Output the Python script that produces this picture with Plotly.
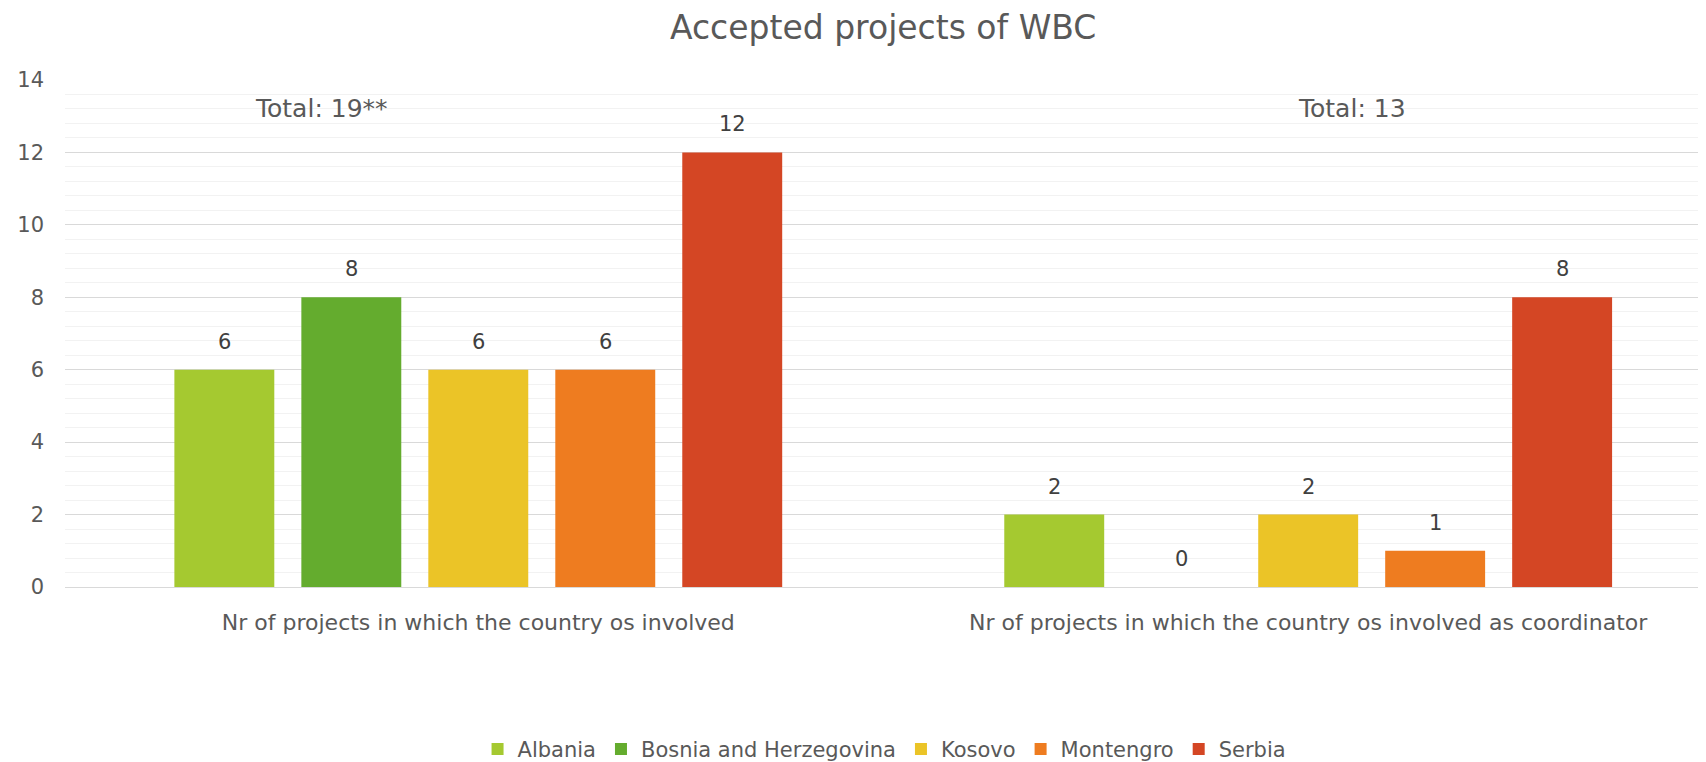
import plotly.graph_objects as go

# data
categories = [
    "Nr of projects in which the country os involved",
    "Nr of projects in which the country os involved as coordinator",
]
countries = ["Albania", "Bosnia and Herzegovina", "Kosovo", "Montengro", "Serbia"]
involved = [6, 8, 6, 6, 12]
coordinator = [2, 0, 2, 1, 8]
totals = ["Total: 19**", "Total: 13"]
colors = ["#A5C930", "#64AC2E", "#EBC427", "#EE7C20", "#D44624"]

FONT = "'DejaVu Sans', sans-serif"
GREY = "#595959"

# pixel width of one bar slot (used to put the value labels over grouped bars)
SLOT = 127

fig = go.Figure()

for i, name in enumerate(countries):
    vals = [involved[i], coordinator[i]]
    fig.add_trace(go.Bar(
        x=categories,
        y=vals,
        name=name,
        marker=dict(color=colors[i], line=dict(width=0)),
        textposition="none",
    ))
    # value labels, offset to sit over this series' bar
    for cat, v in zip(categories, vals):
        fig.add_annotation(
            x=cat, y=v, xref="x", yref="y",
            xshift=(i - 2) * SLOT, yshift=28,
            text=str(v), showarrow=False, yanchor="middle",
            font=dict(size=21, color="#404040", family=FONT),
        )

# "Total" labels above each group
for j, label in enumerate(totals):
    fig.add_annotation(
        x=categories[j], y=13.2, xref="x", yref="y",
        xshift=-157 if j == 0 else 44,
        text=label, showarrow=False, yanchor="middle",
        font=dict(size=25, color=GREY, family=FONT),
    )

fig.update_layout(
    width=1706, height=762,
    margin=dict(l=57, r=0, t=72, b=180),
    paper_bgcolor="white", plot_bgcolor="white",
    font=dict(family=FONT, color=GREY, size=21),
    title=dict(
        text="Accepted projects of WBC",
        x=0.513, xanchor="center", y=0.975, yanchor="middle",
        font=dict(size=33, color=GREY, family=FONT),
    ),
    barmode="group",
    bargap=0.235,
    bargroupgap=0.213,
    showlegend=True,
    legend=dict(
        orientation="h", x=0.497, xanchor="center", y=-0.32, yanchor="middle",
        font=dict(size=21, color=GREY, family=FONT),
        itemwidth=30, tracegroupgap=0,
    ),
    xaxis=dict(
        type="category",
        range=[-0.498, 1.489],
        showgrid=False,
        showline=True, linecolor="#D9D9D9", linewidth=1,
        ticks="outside", ticklen=16, tickcolor="rgba(0,0,0,0)",
        tickfont=dict(size=22, color=GREY, family=FONT),
    ),
    yaxis=dict(
        range=[0, 14],
        dtick=2,
        showgrid=True, gridcolor="#D9D9D9", gridwidth=1,
        zeroline=False,
        minor=dict(dtick=0.4, showgrid=True, gridcolor="#F2F2F2", gridwidth=1),
        ticklabelstandoff=20,
        tickfont=dict(size=21, color=GREY, family=FONT),
    ),
)

fig.write_html("out.html")
